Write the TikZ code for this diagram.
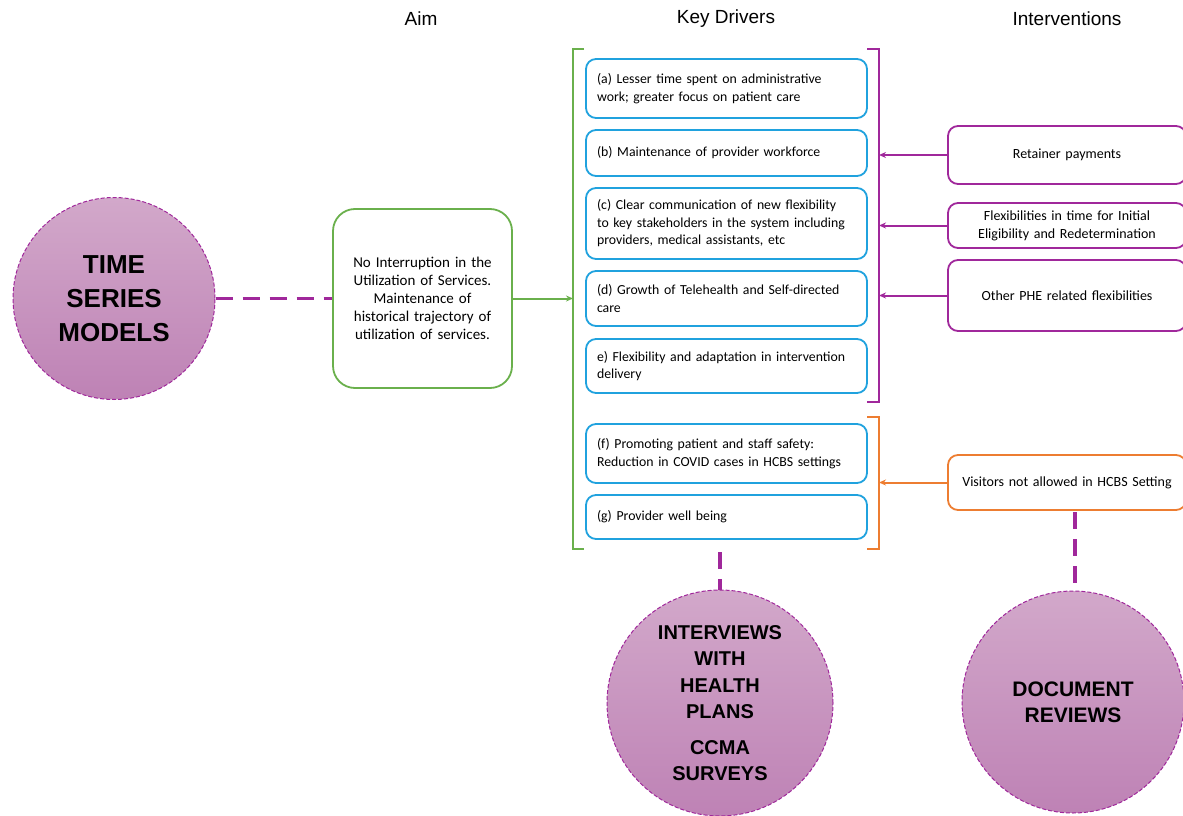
\documentclass[tikz,border=0pt]{standalone}
\usepackage{fontspec}
\setmainfont{Carlito}
\newfontfamily\headfont{Liberation Sans}
\usetikzlibrary{arrows.meta}
\definecolor{pur}{RGB}{160,40,155}
\definecolor{grn}{RGB}{106,176,76}
\definecolor{blu}{RGB}{32,162,222}
\definecolor{org}{RGB}{237,125,49}
\definecolor{ctop}{RGB}{210,168,202}
\definecolor{cbot}{RGB}{190,130,181}
\tikzset{
  head/.style={font=\headfont\fontsize{19}{22}\selectfont},
  bigcirc/.style={circle, draw=pur, line width=1pt, dash pattern=on 4pt off 2pt, top color=ctop, bottom color=cbot, align=center, inner sep=0pt},
  driver/.style={draw=blu, line width=1.8pt, rounded corners=10pt, minimum width=281pt, text width=259pt, align=left, inner xsep=11pt, font=\fontsize{13.8}{17.5}\selectfont},
  interv/.style={draw=pur, line width=1.8pt, rounded corners=10pt, minimum width=238pt, text width=224pt, align=center, font=\fontsize{14}{18}\selectfont},
  dconn/.style={pur, line width=3.5pt, dash pattern=on 17pt off 10pt},
  arr/.style={-{Stealth[length=7pt,width=6pt]}, line width=2pt},
}
\begin{document}
\begin{tikzpicture}[x=1pt,y=-1pt]
\useasboundingbox (0,0) rectangle (1183,816);
% headers
\node[head] (hAim) at (421,19) {Aim};
\node[head] (hKey) at (726,19) {Key Drivers};
\node[head] (hInt) at (1067,19) {Interventions};
% circles
\node[bigcirc, minimum size=202pt, font=\headfont\bfseries\fontsize{26}{34}\selectfont] (ts) at (114,298.5) {TIME\\SERIES\\MODELS};
\node[bigcirc, minimum size=226pt, font=\headfont\bfseries\fontsize{20}{26.5}\selectfont] (iv) at (720,703) {INTERVIEWS\\WITH\\HEALTH\\PLANS\\[9pt]CCMA\\SURVEYS};
\node[bigcirc, minimum size=222pt, font=\headfont\bfseries\fontsize{21}{26}\selectfont] (dr) at (1073,702) {DOCUMENT\\REVIEWS};
% aim box
\node[draw=grn, line width=1.8pt, rounded corners=22pt, minimum width=179pt, minimum height=179pt, text width=170pt, align=center, font=\fontsize{15}{18}\selectfont] (aim) at (422.5,298.5) {No Interruption in the\\Utilization of Services.\\Maintenance of\\historical trajectory of\\utilization of services.};
% drivers
\node[driver, minimum height=59pt] (a) at (726.5,88.5) {(a) Lesser time spent on administrative\\work; greater focus on patient care};
\node[driver, minimum height=46pt] (b) at (726.5,153) {(b) Maintenance of provider workforce};
\node[driver, minimum height=71pt] (c) at (726.5,223.5) {(c) Clear communication of new flexibility\\to key stakeholders in the system including\\providers, medical assistants, etc};
\node[driver, minimum height=55pt] (d) at (726.5,298.5) {(d) Growth of Telehealth and Self-directed\\care};
\node[driver, minimum height=54pt] (e) at (726.5,366) {e) Flexibility and adaptation in intervention\\delivery};
\node[driver, minimum height=59pt] (f) at (726.5,453.5) {(f) Promoting patient and staff safety:\\Reduction in COVID cases in HCBS settings};
\node[driver, minimum height=44pt] (g) at (726.5,517) {(g) Provider well being};
% interventions
\node[interv, minimum height=58pt] (ret) at (1067,155) {Retainer payments};
\node[interv, minimum height=45pt] (flex) at (1067,225.5) {Flexibilities in time for Initial\\Eligibility and Redetermination};
\node[interv, minimum height=71pt] (phe) at (1067,295.5) {Other PHE related flexibilities};
\node[interv, draw=org, minimum height=55pt] (vis) at (1067,482.5) {Visitors not allowed in HCBS Setting};
% brackets
\draw[grn, line width=1.8pt] (584,49) -- (573,49) -- (573,549) -- (584,549);
\draw[pur, line width=1.8pt] (867,49) -- (879,49) -- (879,402) -- (867,402);
\draw[org, line width=1.8pt] (867,417) -- (879,417) -- (879,549) -- (867,549);
\coordinate (gb) at (573,298.5);
\coordinate (pb1) at (879,155);
\coordinate (pb2) at (879,225.5);
\coordinate (pb3) at (879,295.5);
\coordinate (ob) at (879,482.5);
\coordinate (kbot) at (720,552);
\coordinate (vbot) at (1075,512);
% arrows
\draw[arr, draw=grn, fill=grn] (aim.east) -- (gb);
\draw[arr, draw=pur, fill=pur] (ret.west) -- (pb1);
\draw[arr, draw=pur, fill=pur] (flex.west) -- (pb2);
\draw[arr, draw=pur, fill=pur] (phe.west) -- (pb3);
\draw[arr, draw=org, fill=org] (vis.west) -- (ob);
% dashed connectors
\draw[dconn] (ts.east) -- (aim.west);
\draw[dconn] (kbot) -- (iv.north);
\draw[dconn] (vbot) -- (dr.north -| vbot);
\end{tikzpicture}
\end{document}
